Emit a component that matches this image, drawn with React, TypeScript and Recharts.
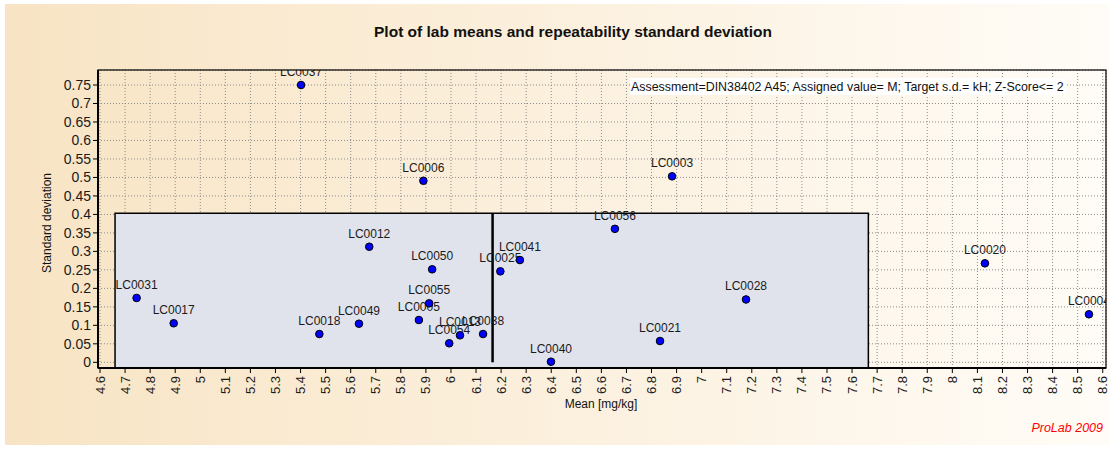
import React from 'react';
import {
  ScatterChart,
  Scatter,
  XAxis,
  YAxis,
  CartesianGrid,
  ReferenceArea,
  ReferenceLine
} from 'recharts';

// lab codes, means [mg/kg] and repeatability s.d.
const labNames = [
  'LC0031', 'LC0017', 'LC0037', 'LC0018', 'LC0049', 'LC0012', 'LC0005', 'LC0055',
  'LC0006', 'LC0050', 'LC0054', 'LC0013', 'LC0038', 'LC0025', 'LC0041', 'LC0040',
  'LC0056', 'LC0021', 'LC0003', 'LC0028', 'LC0020', 'LC0004'
];
const labMeans = [
  4.746, 4.894, 5.402, 5.475, 5.633, 5.674, 5.872, 5.913,
  5.890, 5.925, 5.993, 6.036, 6.128, 6.197, 6.275, 6.399,
  6.654, 6.834, 6.882, 7.177, 8.130, 8.545
];
const labSDs = [
  0.174, 0.1055, 0.750, 0.0765, 0.1044, 0.3126, 0.1144, 0.1595,
  0.491, 0.2515, 0.0514, 0.073, 0.0765, 0.246, 0.2766, 0.0016,
  0.361, 0.0576, 0.503, 0.170, 0.2677, 0.1298
];

// acceptance box and assigned value
const boxMeanLow = 4.66;
const boxMeanHigh = 7.665;
const boxSdHigh = 0.403;
const assignedMean = 6.166;

const xTicks = [
  4.6, 4.7, 4.8, 4.9, 5, 5.1, 5.2, 5.3, 5.4, 5.5, 5.6, 5.7, 5.8, 5.9, 6, 6.1, 6.2, 6.3, 6.4, 6.5,
  6.6, 6.7, 6.8, 6.9, 7, 7.1, 7.2, 7.3, 7.4, 7.5, 7.6, 7.7, 7.8, 7.9, 8, 8.1, 8.2, 8.3, 8.4, 8.5, 8.6
];
const yTicks = [0, 0.05, 0.1, 0.15, 0.2, 0.25, 0.3, 0.35, 0.4, 0.45, 0.5, 0.55, 0.6, 0.65, 0.7, 0.75];
const xDomain = [4.592, 8.613];
const yDomain = [-0.0154, 0.7906];

const W = 1109;
const H = 450;
const PLOT = { left: 98, top: 70, width: 1008, height: 298 };
const FONT = '"Liberation Sans", Arial, sans-serif';

const points = labNames.map((name, i) => ({ name, mean: labMeans[i], sd: labSDs[i] }));

const LabelShape = (props: any) => {
  const { cx, cy, payload, index } = props;
  const id = `lbl-clip-${index}`;
  return (
    <g>
      <defs>
        <clipPath id={id}>
          <rect x={PLOT.left} y={PLOT.top} width={PLOT.width} height={PLOT.height} />
        </clipPath>
      </defs>
      <text x={cx} y={cy - 9} textAnchor="middle" fontSize={12} fill="#1a1a1a" clipPath={`url(#${id})`}>
        {payload.name}
      </text>
    </g>
  );
};

const DotShape = (props: any) => (
  <circle cx={props.cx} cy={props.cy} r={3.8} fill="#0000ff" stroke="#000" strokeWidth={1} />
);

const XTick = (props: any) => {
  const { x, y, payload } = props;
  return (
    <text
      transform={`translate(${x},${y + 1}) rotate(-90)`}
      textAnchor="end"
      dominantBaseline="central"
      fontSize={13}
      fill="#1a1a1a"
    >
      {String(payload.value)}
    </text>
  );
};

export default function App() {
  return (
    <div style={{ position: 'absolute', left: 0, top: 0, width: W, height: H, background: '#fff', fontFamily: FONT }}>
      <div
        style={{
          position: 'absolute',
          left: 5,
          top: 4,
          width: W - 5,
          height: 441,
          background: 'linear-gradient(to right, #f8e4c4, #fffcf7)'
        }}
      />
      <div style={{ position: 'absolute', left: 0, top: 0 }}>
        <ScatterChart width={W} height={H} margin={{ top: PLOT.top, right: 3, bottom: 52, left: 38 }}>
          <CartesianGrid stroke="#8c8c8c" strokeDasharray="1 2" />
          <XAxis
            type="number"
            dataKey="mean"
            domain={xDomain}
            ticks={xTicks}
            interval={0}
            allowDataOverflow
            height={30}
            tickSize={5}
            axisLine={{ stroke: '#000', strokeWidth: 2 }}
            tickLine={{ stroke: '#000' }}
            tick={<XTick />}
          />
          <YAxis
            type="number"
            dataKey="sd"
            domain={yDomain}
            ticks={yTicks}
            interval={0}
            allowDataOverflow
            width={60}
            tickSize={5}
            axisLine={{ stroke: '#000', strokeWidth: 2 }}
            tickLine={{ stroke: '#000' }}
            tick={{ fontSize: 14, fill: '#1a1a1a' }}
          />
          <ReferenceArea
            x1={boxMeanLow}
            x2={boxMeanHigh}
            y1={yDomain[0]}
            y2={boxSdHigh}
            fill="#e0e3ec"
            fillOpacity={1}
            stroke="#000"
            strokeWidth={1.5}
          />
          <ReferenceLine
            segment={[{ x: assignedMean, y: 0 }, { x: assignedMean, y: boxSdHigh }]}
            stroke="#000"
            strokeWidth={2.5}
          />
          <Scatter data={points} shape={<LabelShape />} isAnimationActive={false} />
          <Scatter data={points} shape={<DotShape />} isAnimationActive={false} />
        </ScatterChart>
      </div>
      <svg width={W} height={H} style={{ position: 'absolute', left: 0, top: 0, pointerEvents: 'none' }}>
        <rect x={PLOT.left} y={PLOT.top} width={PLOT.width} height={PLOT.height} fill="none" stroke="#000" strokeWidth={1.2} />
        <text x={573} y={37} textAnchor="middle" fontSize={15.5} fontWeight="bold" fill="#111">
          Plot of lab means and repeatability standard deviation
        </text>
        <rect x={630} y={78} width={436} height={17} fill="#fff" />
        <text x={631} y={91} fontSize={12.4} fill="#111">
          Assessment=DIN38402 A45; Assigned value= M; Target s.d.= kH; Z-Score&lt;= 2
        </text>
        <text transform="translate(47,223) rotate(-90)" textAnchor="middle" dominantBaseline="central" fontSize={12} fill="#111">
          Standard deviation
        </text>
        <text x={601} y={408} textAnchor="middle" fontSize={12} fill="#111">
          Mean [mg/kg]
        </text>
        <text x={1103} y={432} textAnchor="end" fontSize={12.5} fontStyle="italic" fill="#ff0000">
          ProLab 2009
        </text>
      </svg>
    </div>
  );
}
